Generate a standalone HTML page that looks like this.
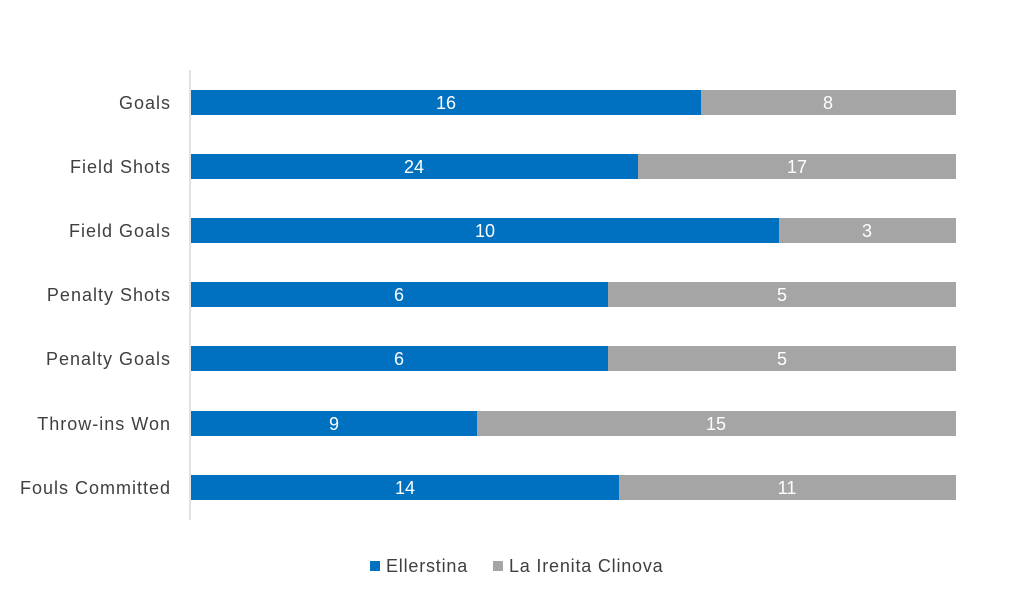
<!DOCTYPE html>
<html><head><style>
body{margin:0;background:#fff;}
svg text{font-family:"Liberation Sans",sans-serif;}
</style></head><body>
<svg width="1024" height="606" xmlns="http://www.w3.org/2000/svg">
<line x1="190" y1="70" x2="190" y2="520" stroke="#d9d9d9" stroke-width="1.5"/>
<g font-size="18" fill="#404040" text-anchor="end" letter-spacing="1">
<text x="171" y="109">Goals</text>
<text x="171" y="173">Field Shots</text>
<text x="171" y="237">Field Goals</text>
<text x="171" y="301">Penalty Shots</text>
<text x="171" y="365">Penalty Goals</text>
<text x="171" y="430">Throw-ins Won</text>
<text x="171" y="494">Fouls Committed</text>
</g>
<g>
<rect x="191" y="90" width="510" height="25" fill="#0070C0"/><rect x="701" y="90" width="255" height="25" fill="#A5A5A5"/>
<rect x="191" y="154" width="447" height="25" fill="#0070C0"/><rect x="638" y="154" width="318" height="25" fill="#A5A5A5"/>
<rect x="191" y="218" width="588" height="25" fill="#0070C0"/><rect x="779" y="218" width="177" height="25" fill="#A5A5A5"/>
<rect x="191" y="282" width="417" height="25" fill="#0070C0"/><rect x="608" y="282" width="348" height="25" fill="#A5A5A5"/>
<rect x="191" y="346" width="417" height="25" fill="#0070C0"/><rect x="608" y="346" width="348" height="25" fill="#A5A5A5"/>
<rect x="191" y="411" width="286" height="25" fill="#0070C0"/><rect x="477" y="411" width="479" height="25" fill="#A5A5A5"/>
<rect x="191" y="475" width="428" height="25" fill="#0070C0"/><rect x="619" y="475" width="337" height="25" fill="#A5A5A5"/>
</g>
<g font-size="18" fill="#fff" text-anchor="middle">
<text x="446" y="109">16</text><text x="828" y="109">8</text>
<text x="414" y="173">24</text><text x="797" y="173">17</text>
<text x="485" y="237">10</text><text x="867" y="237">3</text>
<text x="399" y="301">6</text><text x="782" y="301">5</text>
<text x="399" y="365">6</text><text x="782" y="365">5</text>
<text x="334" y="430">9</text><text x="716" y="430">15</text>
<text x="405" y="494">14</text><text x="787" y="494">11</text>
</g>
<rect x="370" y="561" width="10" height="10" fill="#0070C0"/>
<text x="386" y="572" font-size="18" fill="#404040" letter-spacing="0.8">Ellerstina</text>
<rect x="493" y="561" width="10" height="10" fill="#A5A5A5"/>
<text x="509" y="572" font-size="18" fill="#404040" letter-spacing="0.8">La Irenita Clinova</text>
</svg>
</body></html>
